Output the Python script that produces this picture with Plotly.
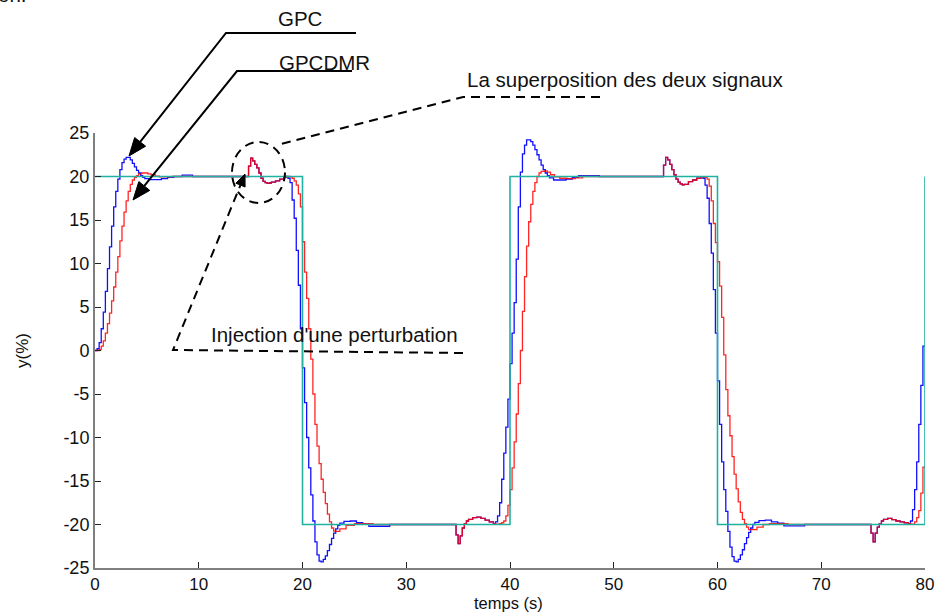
import plotly.graph_objects as go

# ---------------- data ----------------
# set-point (consigne), drawn as a step signal
ref_t = [0, 20, 40, 60, 80]
ref_y = [20, -20, 20, -20, 20]

# disturbance responses (both controllers give the same signal)
d15_t = [14.8, 15.0, 15.2, 15.4, 15.6, 15.8, 16.0, 16.2, 16.4, 16.6, 16.8, 17.0, 17.4, 17.8, 18.2]
d15_y = [21.2, 22.1, 21.8, 21.4, 21.0, 20.4, 19.8, 19.45, 19.3, 19.2, 19.25, 19.35, 19.5, 19.7, 19.9]
d35_t = [34.8, 35.0, 35.2, 35.4, 35.6, 35.8, 36.0, 36.4, 36.8, 37.2, 37.6, 38.0, 38.4]
d35_y = [-21.2, -22.2, -21.3, -20.4, -19.9, -19.6, -19.4, -19.2, -19.15, -19.3, -19.5, -19.7, -19.9]
d55_t = [54.8, 55.0, 55.2, 55.4, 55.6, 55.8, 56.0, 56.2, 56.4, 56.6, 56.8, 57.2, 57.6, 58.0, 58.4]
d55_y = [21.3, 22.2, 21.9, 21.4, 20.8, 20.2, 19.7, 19.35, 19.15, 19.05, 19.1, 19.4, 19.6, 19.8, 19.95]
d75_t = [74.8, 75.0, 75.2, 75.4, 75.6, 75.8, 76.0, 76.4, 76.8, 77.2, 77.6, 78.0, 78.4]
d75_y = [-21.0, -22.0, -21.0, -20.3, -19.9, -19.6, -19.4, -19.3, -19.45, -19.6, -19.7, -19.8, -19.9]

# GPC (blue) transitions
gpc_a_t = [0, 0.2, 0.4, 0.6, 0.8, 1.0, 1.2, 1.4, 1.6, 1.8, 2.0, 2.2, 2.4, 2.6, 2.8, 3.0, 3.2, 3.4,
           3.6, 3.8, 4.0, 4.2, 4.4, 4.6, 4.8, 5.2, 5.8, 6.4, 7.0, 7.6, 8.4, 9.4]
gpc_a_y = [0, 0.2, 0.9, 2.5, 4.4, 6.8, 9.4, 11.9, 14.3, 16.5, 18.3, 19.7, 20.8, 21.6, 22.0, 22.2, 22.2, 21.9,
           21.5, 21.1, 20.7, 20.4, 20.1, 19.9, 19.75, 19.65, 19.65, 19.75, 19.9, 20.0, 20.15, 20.0]
gpc_b_t = [18.4, 18.6, 18.8, 19.0, 19.2, 19.4, 19.6, 19.8, 20.0, 20.2, 20.4, 20.6, 20.8, 21.0, 21.2, 21.4,
           21.6, 21.8, 22.0, 22.2, 22.4, 22.6, 22.8, 23.0, 23.2, 23.4, 23.6, 24.0, 24.6, 25.2, 25.8, 26.4, 28.4]
gpc_b_y = [20.0, 19.8, 19.3, 17.3, 15.2, 11.5, 7.5, 2.5, -2.0, -6.0, -10.0, -13.5, -16.6, -19.6, -22.0, -23.5,
           -24.2, -24.3, -24.0, -23.6, -23.0, -22.3, -21.6, -21.0, -20.5, -20.1, -19.85, -19.65, -19.6, -19.8,
           -19.95, -20.2, -20.0]
gpc_c_t = [38.6, 38.8, 39.0, 39.2, 39.4, 39.6, 39.8, 40.0, 40.2, 40.4, 40.6, 40.8, 41.0, 41.2, 41.4, 41.6,
           41.8, 42.0, 42.2, 42.4, 42.6, 42.8, 43.0, 43.2, 43.4, 43.6, 43.8, 44.2, 44.8, 45.4, 46.0, 46.6, 48.6]
gpc_c_y = [-19.7, -19.0, -17.5, -14.8, -11.8, -8.8, -5.6, -1.5, 2.0, 5.5, 10.5, 16.5, 20.5, 22.6, 23.6, 24.2,
           24.2, 24.0, 23.6, 23.1, 22.5, 21.9, 21.3, 20.8, 20.4, 20.1, 19.85, 19.6, 19.6, 19.7, 19.9, 20.1, 20.0]
gpc_d_t = [58.6, 58.8, 59.0, 59.2, 59.4, 59.6, 59.8, 60.0, 60.2, 60.4, 60.6, 60.8, 61.0, 61.2, 61.4, 61.6,
           61.8, 62.0, 62.2, 62.4, 62.6, 62.8, 63.0, 63.2, 63.4, 63.6, 64.0, 64.6, 65.2, 65.8, 66.4, 68.4]
gpc_d_y = [19.8, 19.0, 17.5, 14.6, 11.2, 7.0, 2.0, -3.5, -8.5, -12.8, -16.0, -18.5, -20.8, -22.6, -23.7, -24.2,
           -24.3, -24.0, -23.5, -22.9, -22.2, -21.5, -20.9, -20.4, -20.0, -19.75, -19.55, -19.5, -19.7, -19.85,
           -20.15, -20.0]
gpc_e_t = [78.6, 78.8, 79.0, 79.2, 79.4, 79.6, 79.8, 80.0]
gpc_e_y = [-19.6, -18.3, -16.0, -12.8, -8.5, -4.0, 0.5, 0.5]

# GPCDMR (red) transitions
dmr_a_t = [0, 0.2, 0.4, 0.6, 0.8, 1.0, 1.2, 1.4, 1.6, 1.8, 2.0, 2.2, 2.4, 2.6, 2.8, 3.0, 3.2, 3.4, 3.6,
           3.8, 4.0, 4.2, 4.5, 4.8, 5.1, 5.4, 5.8, 6.2, 6.8, 7.4]
dmr_a_y = [0, 0, 0.1, 0.5, 1.1, 2.0, 3.1, 4.3, 5.7, 7.3, 9.0, 10.8, 12.6, 14.3, 15.9, 17.2, 18.3, 19.1, 19.6,
           19.9, 20.1, 20.3, 20.4, 20.4, 20.3, 20.2, 20.05, 19.95, 19.95, 20.0]
dmr_b_t = [18.4, 18.8, 19.0, 19.2, 19.4, 19.6, 19.8, 20.0, 20.2, 20.4, 20.6, 20.8, 21.0, 21.2, 21.4, 21.6,
           21.8, 22.0, 22.2, 22.4, 22.6, 22.8, 23.0, 23.2, 23.6, 24.2, 25.0, 26.8]
dmr_b_y = [20.0, 19.95, 19.8, 19.5, 19.0, 18.0, 16.5, 12.5, 9.0, 6.0, 2.5, -1.0, -5.0, -8.5, -11.0, -13.0,
           -14.8, -16.3, -17.6, -18.8, -19.7, -20.4, -20.75, -20.8, -20.5, -20.1, -19.9, -20.0]
dmr_c_t = [38.6, 39.0, 39.2, 39.4, 39.6, 39.8, 40.0, 40.2, 40.4, 40.6, 40.8, 41.0, 41.2, 41.4, 41.6, 41.8,
           42.0, 42.2, 42.4, 42.6, 42.8, 43.0, 43.3, 43.6, 43.9, 44.3, 44.8, 45.5, 46.3, 47.0]
dmr_c_y = [-19.95, -19.9, -19.8, -19.6, -19.0, -17.8, -16.0, -13.5, -10.5, -7.3, -3.8, 0.0, 4.5, 8.5, 12.0,
           14.8, 16.8, 18.3, 19.3, 20.0, 20.4, 20.6, 20.65, 20.5, 20.2, 19.95, 19.8, 19.75, 19.85, 20.0]
dmr_d_t = [58.6, 58.8, 59.0, 59.2, 59.4, 59.6, 59.8, 60.0, 60.2, 60.4, 60.6, 60.8, 61.0, 61.2, 61.4, 61.6,
           61.8, 62.0, 62.2, 62.4, 62.6, 62.8, 63.0, 63.4, 63.8, 64.4, 65.0, 66.8]
dmr_d_y = [19.95, 19.9, 19.7, 18.9, 17.2, 14.6, 12.4, 10.2, 7.4, 3.8, -0.5, -4.5, -7.5, -9.8, -12.2, -14.2,
           -15.9, -17.4, -18.6, -19.4, -19.9, -20.3, -20.6, -20.6, -20.3, -20.0, -19.9, -20.0]
dmr_e_t = [78.6, 78.8, 79.0, 79.2, 79.4, 79.6, 79.8, 80.0]
dmr_e_y = [-19.95, -19.95, -19.7, -19.2, -18.4, -16.4, -13.4, -13.4]

x_ticks = [0, 10, 20, 30, 40, 50, 60, 70, 80]
x_ticktext = ["0", "10", "20", "30", "40", "50", "60", "70", "80"]
y_ticks = [-25, -20, -15, -10, -5, 0, 5, 10, 15, 20, 25]
y_ticktext = ["-25", "-20", "-15", "-10", "-5", "0", "5", "10", "15", "20", "25"]

gpc_t = gpc_a_t + d15_t + gpc_b_t + d35_t + gpc_c_t + d55_t + gpc_d_t + d75_t + gpc_e_t
gpc_y = gpc_a_y + d15_y + gpc_b_y + d35_y + gpc_c_y + d55_y + gpc_d_y + d75_y + gpc_e_y
dmr_t = dmr_a_t + d15_t + dmr_b_t + d35_t + dmr_c_t + d55_t + dmr_d_t + d75_t + dmr_e_t
dmr_y = dmr_a_y + d15_y + dmr_b_y + d35_y + dmr_c_y + d55_y + dmr_d_y + d75_y + dmr_e_y

# ---------------- figure ----------------
W, H = 941, 613
L, R, T, B = 95, 16, 133, 45

fig = go.Figure()
fig.add_trace(go.Scatter(x=gpc_t, y=gpc_y, mode="lines", line=dict(color="#1010ff", width=1.3, shape="hv"),
                         name="GPC", showlegend=False))
fig.add_trace(go.Scatter(x=dmr_t, y=dmr_y, mode="lines", line=dict(color="#ff0000", width=1.3, shape="hv"),
                         opacity=0.85, name="GPCDMR", showlegend=False))
fig.add_trace(go.Scatter(x=ref_t, y=ref_y, mode="lines", line=dict(color="#20b2a0", width=1.6, shape="hv"),
                         name="consigne", showlegend=False))


def PX(x):
    return (x - L) / (W - L - R)


def PY(y):
    return (H - B - y) / (H - T - B)


def arrow_head(tail, tip, length, half):
    dx, dy = tip[0] - tail[0], tip[1] - tail[1]
    n = (dx * dx + dy * dy) ** 0.5
    ux, uy = dx / n, dy / n
    bx, by = tip[0] - length * ux, tip[1] - length * uy
    px, py = -uy * half, ux * half
    c1 = (bx + px, by + py)
    c2 = (bx - px, by - py)
    path = "M {},{} L {},{} L {},{} Z".format(PX(tip[0]), PY(tip[1]), PX(c1[0]), PY(c1[1]), PX(c2[0]), PY(c2[1]))
    return path, (bx, by)


shapes = []
BLK = "#000000"


def solid_arrow(corner, end_h, tip, length=18, half=7):
    head, base = arrow_head(corner, tip, length, half)
    shapes.append(dict(type="path", xref="paper", yref="paper",
                       path="M {},{} L {},{} L {},{}".format(PX(end_h[0]), PY(end_h[1]), PX(corner[0]), PY(corner[1]),
                                                          PX(base[0]), PY(base[1])),
                       line=dict(color=BLK, width=2)))
    shapes.append(dict(type="path", xref="paper", yref="paper", path=head, fillcolor=BLK,
                       line=dict(color=BLK, width=1)))


solid_arrow((226, 33), (356, 33), (129, 156))
solid_arrow((237, 71), (352, 71), (133, 200))

DASH = "9px,6px"
# superposition callout
shapes.append(dict(type="path", xref="paper", yref="paper",
                   path="M {},{} L {},{} L {},{}".format(PX(600), PY(97), PX(463), PY(97), PX(277), PY(145)),
                   line=dict(color=BLK, width=2, dash=DASH)))
shapes.append(dict(type="circle", xref="paper", yref="paper",
                   x0=PX(232), x1=PX(285), y0=PY(203), y1=PY(142),
                   line=dict(color=BLK, width=2, dash=DASH)))
# injection callout
tipI = (245, 174)
headI, baseI = arrow_head((173, 350), tipI, 12, 5)
shapes.append(dict(type="path", xref="paper", yref="paper",
                   path="M {},{} L {},{} L {},{}".format(PX(463), PY(353), PX(173), PY(350), PX(baseI[0]), PY(baseI[1])),
                   line=dict(color=BLK, width=2, dash=DASH)))
shapes.append(dict(type="path", xref="paper", yref="paper", path=headI, fillcolor=BLK,
                   line=dict(color=BLK, width=1)))

FONT = "Liberation Sans, Arial, sans-serif"
ann = []


def text(x, y, s, size=20.5, xanchor="center", yanchor="middle", pad=1):
    ann.append(dict(x=PX(x), y=PY(y), xref="paper", yref="paper", text=s, showarrow=False, borderpad=pad,
                    xanchor=xanchor, yanchor=yanchor, font=dict(family=FONT, size=size, color="#111111")))


text(300, 18, "GPC")
text(324, 62, "GPCDMR")
text(625, 80, "La superposition des deux signaux")
text(334, 334, "Injection d'une perturbation")
text(-4, -6, "on.", xanchor="left")
# x-axis title, placed just under the tick labels
text(508, 613, "temps (s)", size=16.5, yanchor="bottom", pad=0)

fig.update_layout(
    width=W, height=H,
    margin=dict(l=L, r=R, t=T, b=B, pad=0, autoexpand=False),
    paper_bgcolor="white", plot_bgcolor="white",
    shapes=shapes, annotations=ann,
    font=dict(family=FONT, size=17, color="#111111"),
    xaxis=dict(range=[0, 80], tickvals=x_ticks, ticktext=x_ticktext, ticks="inside", ticklen=6,
               tickwidth=1.2, tickcolor="#222222", showline=True, linecolor="#7f7f7f", linewidth=2,
               showgrid=False, zeroline=False, mirror=False, automargin=False,
               tickfont=dict(family=FONT, size=17)),
    yaxis=dict(range=[-25, 25], tickvals=y_ticks, ticktext=y_ticktext, ticks="inside", ticklen=6,
               tickwidth=1.2, tickcolor="#222222", showline=True, linecolor="#7f7f7f", linewidth=2,
               showgrid=False, zeroline=False, mirror=False, automargin=False,
               tickfont=dict(family=FONT, size=18),
               title=dict(text="y(%)", font=dict(family=FONT, size=17), standoff=30)),
)

fig.write_html("out.html", config={"displayModeBar": False},
               post_script="document.body.style.margin='0';document.body.style.overflow='hidden';")
